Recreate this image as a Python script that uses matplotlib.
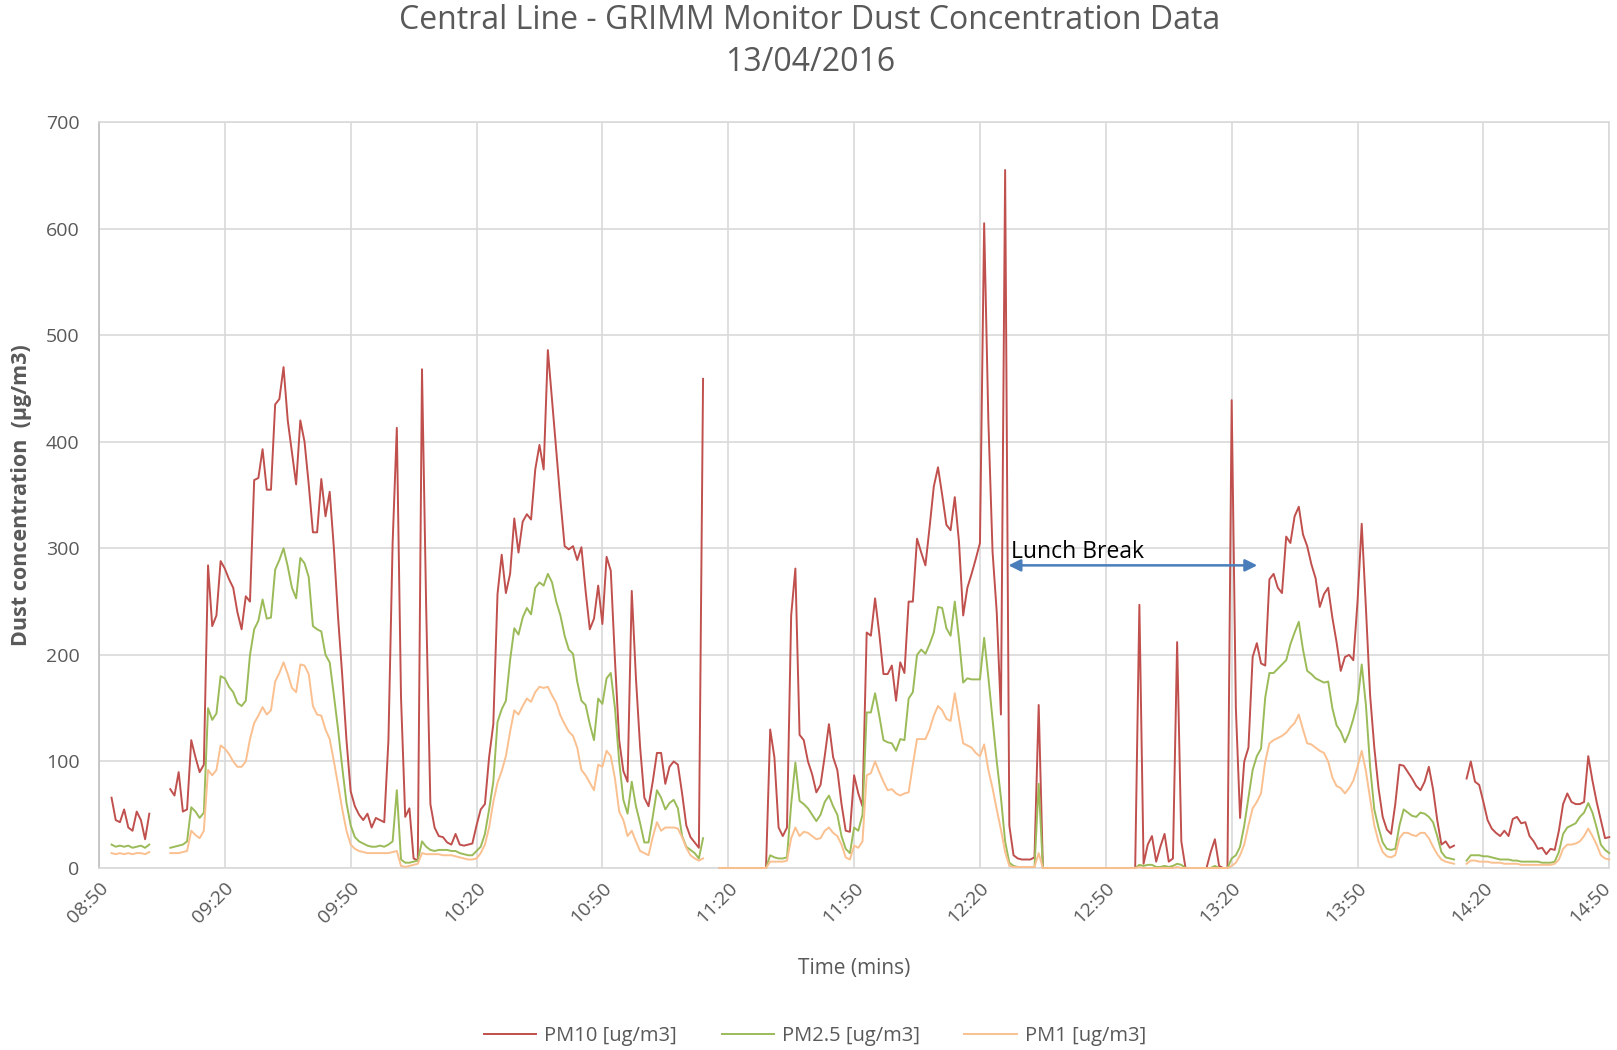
import numpy as np
import matplotlib
matplotlib.use("Agg")
import matplotlib.pyplot as plt
from matplotlib.transforms import ScaledTranslation

nan = float("nan")

# minutes after 08:50, one reading per minute
minutes = list(range(0, 361))

pm10 = [
    # 08:50 - 09:19
    nan, nan, nan, 66, 45, 43, 55, 38, 35, 53, 45, 27, 51, nan, nan, nan, nan, 74, 68, 90,
    53, 55, 120, 104, 90, 97, 284, 227, 237, 288,
    # 09:20 - 09:49
    281, 271, 263, 240, 224, 255, 250, 364, 366, 393, 355, 355, 435, 440, 470, 420, 390, 360, 420, 400,
    360, 315, 315, 365, 330, 353, 300, 235, 180, 120,
    # 09:50 - 10:19
    72, 58, 50, 45, 51, 38, 47, 45, 43, 120, 305, 413, 160, 48, 56, 9, 7, 468, 244, 60,
    38, 30, 29, 24, 22, 32, 22, 21, 22, 23,
    # 10:20 - 10:49
    40, 55, 60, 104, 135, 257, 294, 258, 276, 328, 296, 325, 332, 327, 374, 397, 374, 486, 439, 391,
    345, 302, 299, 302, 289, 301, 260, 224, 234, 265,
    # 10:50 - 11:19
    229, 292, 279, 195, 120, 91, 81, 260, 178, 113, 66, 58, 81, 108, 108, 79, 95, 100, 97, 70,
    40, 29, 24, 19, 459, nan, nan, nan, 0, 0,
    # 11:20 - 11:49
    0, 0, 0, 0, 0, 0, 0, 0, 0, 0, 130, 104, 38, 30, 38, 237, 281, 125, 120, 100,
    88, 71, 78, 105, 135, 104, 92, 60, 35, 34,
    # 11:50 - 12:19
    87, 70, 58, 221, 218, 253, 220, 182, 182, 190, 157, 193, 183, 250, 250, 309, 296, 284, 320, 358,
    376, 350, 322, 317, 348, 306, 237, 263, 276, 290,
    # 12:20 - 12:49
    305, 605, 420, 297, 240, 144, 655, 40, 12, 9, 8, 8, 8, 10, 153, 0, 0, 0, 0, 0,
    0, 0, 0, 0, 0, 0, 0, 0, 0, 0,
    # 12:50 - 13:19
    0, 0, 0, 0, 0, 0, 0, 0, 247, 4, 22, 30, 6, 20, 32, 6, 9, 212, 25, 0,
    0, 0, 0, 0, 0, 15, 27, 2, 0, 0,
    # 13:20 - 13:49
    439, 150, 47, 100, 113, 198, 211, 192, 190, 271, 276, 263, 258, 311, 305, 330, 339, 313, 302, 285,
    272, 245, 257, 263, 235, 212, 185, 198, 200, 195,
    # 13:50 - 14:19
    250, 323, 244, 162, 113, 75, 48, 36, 32, 60, 97, 96, 90, 84, 77, 73, 81, 95, 74, 45,
    22, 25, 19, 21, nan, nan, 84, 100, 81, 78,
    # 14:20 - 14:50
    62, 45, 37, 33, 30, 35, 30, 46, 48, 42, 43, 30, 25, 18, 19, 13, 18, 17, 35, 60,
    70, 62, 60, 60, 62, 105, 82, 62, 45, 28, 29,
]

pm25 = [
    nan, nan, nan, 22, 20, 21, 20, 21, 19, 20, 21, 19, 22, nan, nan, nan, nan, 19, 20, 21,
    22, 25, 57, 53, 47, 52, 150, 139, 145, 180,
    178, 170, 165, 155, 152, 157, 200, 224, 232, 252, 234, 235, 280, 289, 300, 283, 263, 253, 291, 286,
    273, 227, 224, 222, 200, 193, 162, 130, 94, 61,
    40, 29, 25, 23, 21, 20, 20, 21, 20, 22, 25, 73, 8, 5, 5, 6, 7, 25, 20, 17,
    16, 17, 17, 17, 16, 16, 14, 13, 12, 12,
    16, 20, 32, 55, 81, 137, 149, 157, 195, 225, 219, 235, 244, 238, 263, 268, 265, 276, 268, 250,
    237, 218, 205, 201, 175, 157, 153, 135, 120, 159,
    154, 178, 183, 150, 100, 64, 51, 81, 58, 42, 24, 24, 48, 73, 66, 55, 61, 64, 56, 30,
    20, 17, 14, 9, 28, nan, nan, nan, 0, 0,
    0, 0, 0, 0, 0, 0, 0, 0, 0, 0, 12, 10, 9, 9, 10, 60, 99, 63, 60, 56,
    50, 44, 50, 62, 68, 58, 50, 30, 18, 14,
    38, 35, 50, 146, 146, 164, 143, 120, 118, 117, 110, 121, 120, 159, 165, 200, 205, 201, 210, 221,
    245, 244, 225, 218, 250, 215, 174, 178, 177, 177,
    177, 216, 179, 140, 100, 66, 25, 5, 2, 1, 1, 1, 1, 1, 79, 0, 0, 0, 0, 0,
    0, 0, 0, 0, 0, 0, 0, 0, 0, 0,
    0, 0, 0, 0, 0, 0, 0, 0, 3, 2, 3, 3, 1, 1, 2, 1, 2, 4, 3, 0,
    0, 0, 0, 0, 0, 0, 2, 0, 0, 0,
    9, 12, 20, 40, 66, 92, 105, 112, 160, 183, 183, 187, 191, 195, 210, 221, 231, 205, 185, 182,
    178, 176, 174, 175, 150, 134, 128, 118, 127, 140,
    156, 191, 153, 95, 55, 38, 24, 18, 17, 18, 40, 55, 52, 49, 48, 52, 51, 48, 43, 30,
    15, 10, 9, 8, nan, nan, 7, 12, 12, 12,
    11, 11, 10, 9, 8, 8, 8, 7, 7, 6, 6, 6, 6, 6, 5, 5, 5, 6, 15, 32,
    38, 40, 42, 48, 52, 61, 52, 38, 22, 17, 14,
]

pm1 = [
    nan, nan, nan, 14, 13, 14, 13, 14, 13, 14, 14, 13, 15, nan, nan, nan, nan, 14, 14, 14,
    15, 16, 35, 31, 28, 35, 92, 87, 92, 115,
    112, 107, 100, 95, 95, 100, 121, 136, 143, 151, 144, 148, 175, 183, 193, 182, 169, 165, 191, 190,
    182, 152, 144, 143, 130, 121, 100, 78, 55, 35,
    22, 18, 16, 15, 14, 14, 14, 14, 14, 14, 15, 16, 2, 1, 2, 3, 4, 14, 13, 13,
    13, 13, 12, 12, 12, 11, 10, 9, 8, 8,
    9, 14, 22, 38, 62, 80, 91, 105, 128, 148, 144, 152, 159, 156, 165, 170, 169, 170, 162, 155,
    143, 135, 128, 124, 113, 92, 87, 80, 73, 97,
    95, 110, 105, 84, 53, 45, 30, 35, 25, 16, 14, 12, 29, 43, 35, 38, 38, 38, 37, 29,
    19, 12, 9, 7, 9, nan, nan, nan, 0, 0,
    0, 0, 0, 0, 0, 0, 0, 0, 0, 0, 6, 6, 6, 6, 7, 28, 38, 30, 34, 33,
    30, 27, 28, 35, 38, 33, 30, 22, 10, 8,
    21, 19, 25, 87, 89, 100, 90, 81, 73, 74, 70, 68, 70, 71, 97, 121, 121, 121, 130, 143,
    152, 148, 140, 138, 164, 140, 117, 115, 113, 108,
    105, 116, 92, 75, 55, 36, 15, 2, 1, 1, 1, 1, 1, 1, 14, 0, 0, 0, 0, 0,
    0, 0, 0, 0, 0, 0, 0, 0, 0, 0,
    0, 0, 0, 0, 0, 0, 0, 0, 1, 0, 0, 0, 0, 0, 0, 0, 0, 1, 0, 0,
    0, 0, 0, 0, 0, 0, 0, 0, 0, 0,
    2, 5, 12, 22, 40, 56, 62, 70, 100, 117, 120, 122, 124, 127, 132, 136, 144, 130, 117, 116,
    113, 110, 108, 100, 85, 77, 75, 70, 75, 82,
    95, 110, 91, 65, 40, 25, 15, 11, 10, 12, 28, 33, 33, 31, 30, 33, 33, 28, 20, 13,
    8, 6, 5, 4, nan, nan, 4, 7, 7, 6,
    6, 6, 5, 5, 5, 4, 4, 4, 4, 3, 3, 3, 3, 3, 3, 3, 3, 4, 8, 18,
    22, 22, 23, 25, 30, 37, 30, 22, 12, 9, 8,
]

tick_minutes = list(range(0, 361, 30))
tick_labels = ["08:50", "09:20", "09:50", "10:20", "10:50", "11:20", "11:50",
               "12:20", "12:50", "13:20", "13:50", "14:20", "14:50"]

lunch_start, lunch_end, lunch_level = 216.8, 276.1, 284

plt.rcParams["font.family"] = ["Open Sans", "DejaVu Sans"]
grey = "#595959"
grid_c = "#D9D9D9"

fig = plt.figure(figsize=(16.17, 10.5), dpi=100)
ax = fig.add_axes([0.0612, 0.1733, 0.9340, 0.7105])

ax.plot(minutes, pm10, color="#C0504D", lw=1.4, label="PM10 [ug/m3]", zorder=3, clip_on=False)
ax.plot(minutes, pm25, color="#9BBB59", lw=1.4, label="PM2.5 [ug/m3]", zorder=3, clip_on=False)
ax.plot(minutes, pm1, color="#FAC090", lw=1.4, label="PM1 [ug/m3]", zorder=3, clip_on=False)

ax.set_xlim(0, 360)
ax.set_ylim(0, 700)
ax.set_yticks(range(0, 701, 100))
ax.set_xticks(tick_minutes)
ax.set_xticklabels(tick_labels, rotation=45, ha="right", va="top", rotation_mode="anchor")
ax.tick_params(length=0, colors=grey, labelsize=14)
ax.tick_params(axis="y", pad=14)
ax.tick_params(axis="x", pad=8)
# nudge the last date label so it stays inside the figure
last = ax.get_xticklabels()[-1]
last.set_transform(last.get_transform() + ScaledTranslation(-8 / 100, 0, fig.dpi_scale_trans))
ax.grid(True, color=grid_c, lw=1.2)
ax.set_axisbelow(True)
for s in ax.spines.values():
    s.set_color(grid_c)
    s.set_linewidth(1.2)
ax.spines["left"].set_color("#BFBFBF")

ax.set_xlabel("Time (mins)", fontsize=15, color=grey, labelpad=22)
ax.set_ylabel("Dust concentration  (µg/m3)", fontsize=15.5, color=grey,
              fontweight="bold", labelpad=10)

fig.text(0.501, 0.996, "Central Line - GRIMM Monitor Dust Concentration Data\n13/04/2016",
         ha="center", va="top", fontsize=23, color=grey, linespacing=1.35)

ax.annotate("", xy=(lunch_start, lunch_level), xytext=(lunch_end, lunch_level),
            arrowprops=dict(arrowstyle="<|-|>", color="#4A7EBB", lw=1.8,
                            mutation_scale=18, shrinkA=0, shrinkB=0))
ax.text(lunch_start + 0.7, lunch_level + 7, "Lunch Break", fontsize=16.5, color="black",
        ha="left", va="baseline")

fig.legend(loc="center", bbox_to_anchor=(0.504, 0.0135), ncol=3, frameon=False,
           fontsize=14.5, handlelength=2.6, handletextpad=0.4, columnspacing=2.2,
           labelcolor=grey)

fig.savefig("out.png", dpi=100)
